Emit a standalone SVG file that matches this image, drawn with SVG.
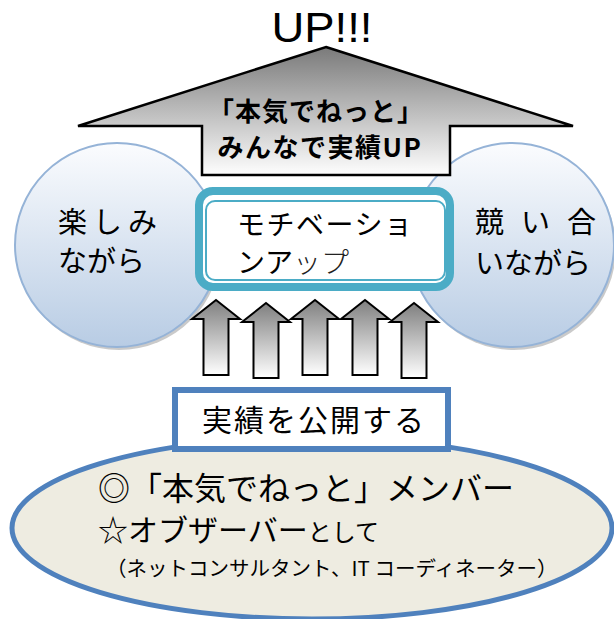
<svg xmlns="http://www.w3.org/2000/svg" width="614" height="619" viewBox="0 0 614 619">
<style>
.jp{font-family:"Noto Sans CJK JP","Liberation Sans",sans-serif;fill:#000}
.b{font-weight:bold}
.circ{stroke:#95b3d7;stroke-width:2;fill:url(#gCirc)}
.shadow{fill:#8a8a8a;opacity:.45}
.sarrow{fill:url(#gArrow);stroke:#000;stroke-width:2;stroke-linejoin:miter}
</style>
<defs>
<linearGradient id="gBig" x1="0" y1="47" x2="0" y2="176" gradientUnits="userSpaceOnUse">
<stop offset="0" stop-color="#7a7a7a"/>
<stop offset="1" stop-color="#ffffff"/>
</linearGradient>
<linearGradient id="gArrow" x1="0" y1="0" x2="0" y2="1">
<stop offset="0" stop-color="#7f7f7f"/>
<stop offset="1" stop-color="#ffffff"/>
</linearGradient>
<linearGradient id="gCirc" x1="0" y1="0" x2="0" y2="1">
<stop offset="0" stop-color="#fbfcfe"/>
<stop offset="1" stop-color="#b8cce4"/>
</linearGradient>
<path id="sa" d="M0,0 L24,19 L12.5,19 L12.5,75 L-12.5,75 L-12.5,19 L-24,19 Z"/>
</defs>

<g id="left-circle">
<circle class="shadow" cx="119" cy="248" r="102"/>
<circle class="circ" cx="117" cy="245" r="102"/>
<text class="jp" font-size="29"><tspan x="58 93 128" y="233">楽しみ</tspan><tspan x="58" y="272">ながら</tspan></text>
</g>

<g id="right-circle">
<circle class="shadow" cx="514" cy="248" r="102"/>
<circle class="circ" cx="512" cy="245" r="102"/>
<text class="jp" font-size="29"><tspan x="475 521 567" y="233">競い合</tspan><tspan x="475" y="274">いながら</tspan></text>
</g>

<g id="up-arrow">
<path d="M326,47 L573,126 L450,126 L450,175 L202,175 L202,126 L78,126 Z" fill="url(#gBig)" stroke="#000" stroke-width="2.5"/>
<text class="jp b" font-size="26" letter-spacing="1" text-anchor="middle" x="316" y="121">「本気でねっと」</text>
<text class="jp b" font-size="26" letter-spacing="1.5" text-anchor="middle" x="320" y="157">みんなで実績UP</text>
</g>

<g id="up-title">
<text x="322" y="42" font-family="Liberation Sans,Arial,sans-serif" font-size="43" text-anchor="middle" textLength="101" lengthAdjust="spacingAndGlyphs">UP!!!</text>
</g>

<g id="motivation">
<rect x="199" y="191" width="251" height="96" rx="14" fill="#fff" stroke="#4bacc6" stroke-width="8"/>
<rect x="206" y="201" width="239" height="79" rx="9" fill="none" stroke="#4bacc6" stroke-width="2"/>
<text class="jp" font-size="28" letter-spacing="1.5" x="237" y="235">モチベーショ</text>
<text class="jp" font-size="28" x="237" y="273">ンア<tspan font-weight="300" fill="#222">ップ</tspan></text>
</g>

<g id="connectors">
<use href="#sa" class="sarrow" x="216" y="300"/>
<use href="#sa" class="sarrow" x="266" y="303"/>
<use href="#sa" class="sarrow" x="315" y="300"/>
<use href="#sa" class="sarrow" x="365" y="300"/>
<use href="#sa" class="sarrow" x="414" y="303"/>
</g>

<g id="members">
<ellipse cx="312" cy="528" rx="300" ry="91" fill="#eeece1" stroke="#4f81bd" stroke-width="5"/>
<text class="jp" font-size="32" x="98" y="500">◎「本気でねっと」メンバー</text>
<text class="jp" font-size="30" x="98" y="541">☆オブザーバー<tspan font-size="24">として</tspan></text>
<text class="jp" font-size="20.5" x="106" y="576">（ネットコンサルタント、IT コーディネーター）</text>
</g>

<g id="publish">
<rect x="175" y="390" width="273" height="59" fill="#fff" stroke="#4f81bd" stroke-width="6"/>
<text class="jp" font-size="30" letter-spacing="2" x="202" y="431">実績を公開する</text>
</g>
</svg>
